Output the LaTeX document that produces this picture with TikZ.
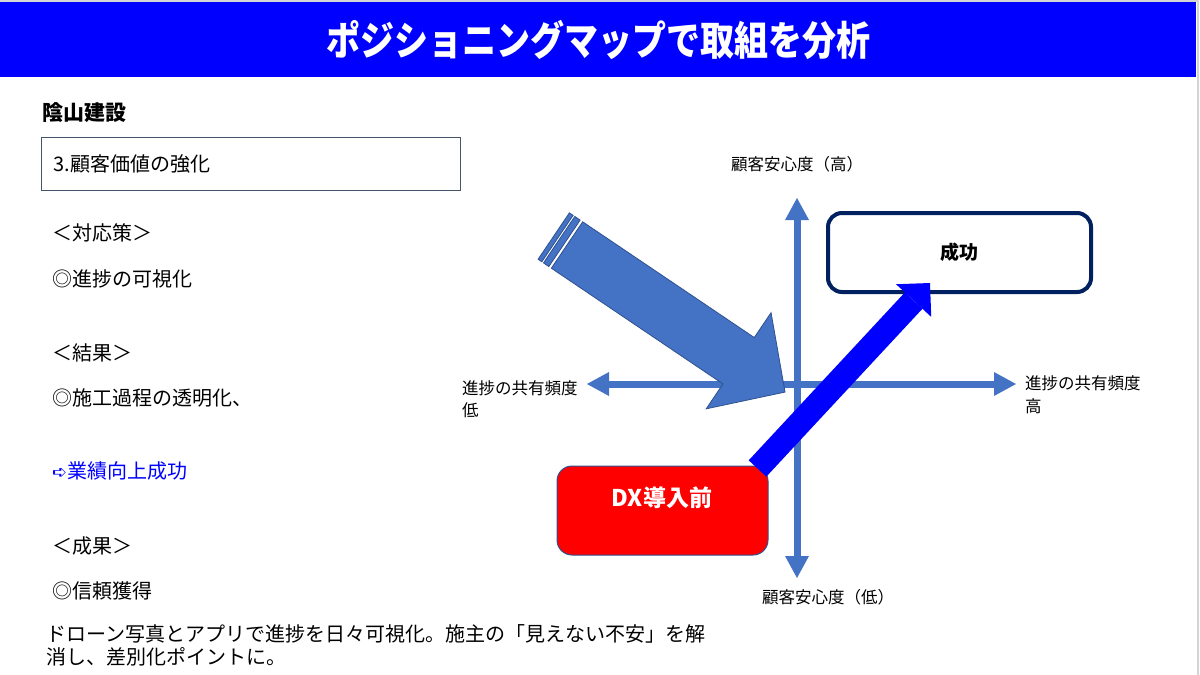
\documentclass[tikz,border=0pt]{standalone}
\usepackage{fontspec}
\setmainfont{Noto Sans CJK JP}
\newfontfamily\symfont{DejaVu Sans}
\usepackage{tikz}
\usetikzlibrary{arrows.meta,positioning}
\definecolor{titleblue}{HTML}{0000FF}
\definecolor{axisblue}{HTML}{4472C4}
\definecolor{edgeblue}{HTML}{2F528F}
\definecolor{navyline}{HTML}{002060}
\definecolor{framegray}{HTML}{D4D4D4}
\definecolor{boxgray}{HTML}{44546A}

\begin{document}
\begin{tikzpicture}[x=1pt,y=-1pt,
    body/.style={anchor=west, inner sep=0pt, font=\fontsize{20}{24}\selectfont},
    axislabel/.style={inner sep=0pt, align=left, font=\fontsize{16.5}{22.5}\selectfont},
    axis/.style={draw=axisblue, line width=7pt,
        {Triangle[width=24pt,length=22pt,line width=0pt]}-{Triangle[width=24pt,length=22pt,line width=0pt]}},
    trendarrow/.style={draw=edgeblue, fill=axisblue, line width=0.8pt},
    winarrow/.style={draw=titleblue, line width=24pt, -{Triangle[width=48pt,length=24pt,line width=0pt]}},
    topicbox/.style={draw=boxgray, line width=1pt, anchor=north west, minimum width=419pt,
        minimum height=53pt, text width=395pt, inner xsep=12pt, font=\fontsize{20}{24}\selectfont},
    goalbox/.style={draw=navyline, line width=4pt, rounded corners=14pt, minimum width=263pt,
        minimum height=79pt, font=\bfseries\fontsize{19}{22}\selectfont},
    startbox/.style={draw=edgeblue, fill=red, line width=1pt, rounded corners=15pt,
        minimum width=211pt, minimum height=89pt},
]
    \useasboundingbox (0,0) rectangle (1200,675);
    \draw[framegray, line width=2pt] (0,1) -- (1198,1) -- (1198,675);
    \node[fill=titleblue, anchor=north west, inner sep=0pt, minimum width=1196pt, minimum height=75pt,
        text=white, font=\bfseries\fontsize{34}{40}\selectfont] (titlebar) at (0,2)
        {\scalebox{1}[1.18]{ポジショニングマップで取組を分析}};

    \node[body, font=\bfseries\fontsize{21}{24}\selectfont] (company) at (42,113) {陰山建設};
    \node[topicbox] (topic) at (41,137) {3.顧客価値の強化};
    \node[body] (measure) at (52,233) {＜対応策＞};
    \node[body] (measure1) at (52,279) {◎進捗の可視化};
    \node[body] (result) at (52,353) {＜結果＞};
    \node[body] (result1) at (52,398) {◎施工過程の透明化、};
    \node[body, text=titleblue] (result2) at (52,471) {{\symfont\fontsize{18}{20}\selectfont ➪}業績向上成功};
    \node[body] (outcome) at (52,546) {＜成果＞};
    \node[body] (outcome1) at (52,591) {◎信頼獲得};
    \node[body, align=left, font=\fontsize{20}{23}\selectfont] (summary) at (46,645)
        {ドローン写真とアプリで進捗を日々可視化。施主の「見えない不安」を解\\消し、差別化ポイントに。};

    \coordinate (ytop) at (797,198);
    \coordinate (ybot) at (797,578);
    \coordinate (xlow) at (587,384);
    \coordinate (xhigh) at (1016,384);
    \draw[axis] (xlow) -- (xhigh);
    \draw[axis] (ybot) -- (ytop);
    \node[axislabel] (yhighlabel) at (797,164) {顧客安心度（高）};
    \node[axislabel] (ylowlabel) at (828,597) {顧客安心度（低）};
    \node[axislabel, anchor=west] (xlowlabel) at (462,399) {進捗の共有頻度\\低};
    \node[axislabel, anchor=west] (xhighlabel) at (1025,394.5) {進捗の共有頻度\\高};

    \begin{scope}[shift={(567,245)}, rotate=-34]
        \draw[trendarrow] (0,-28) -- (207,-28) -- (207,-58) -- (263,0) -- (207,58) -- (207,28) -- (0,28) -- cycle;
        \draw[trendarrow] (-16,-28) rectangle (-11.5,28);
        \draw[trendarrow] (-9.5,-28) rectangle (-3,28);
    \end{scope}

    \node[goalbox] (success) at (959.5,252.5) {成功};
    \node[startbox] (dx) at (662.5,510.5) {};
    \node[text=white, font=\bfseries\fontsize{23}{26}\selectfont] (dxlabel) at (662,498) {DX導入前};

    \coordinate (wintip) at (930,283);
    \draw[winarrow] ([xshift=-11pt,yshift=-3pt]dx.north east) -- (wintip);
\end{tikzpicture}
\end{document}
